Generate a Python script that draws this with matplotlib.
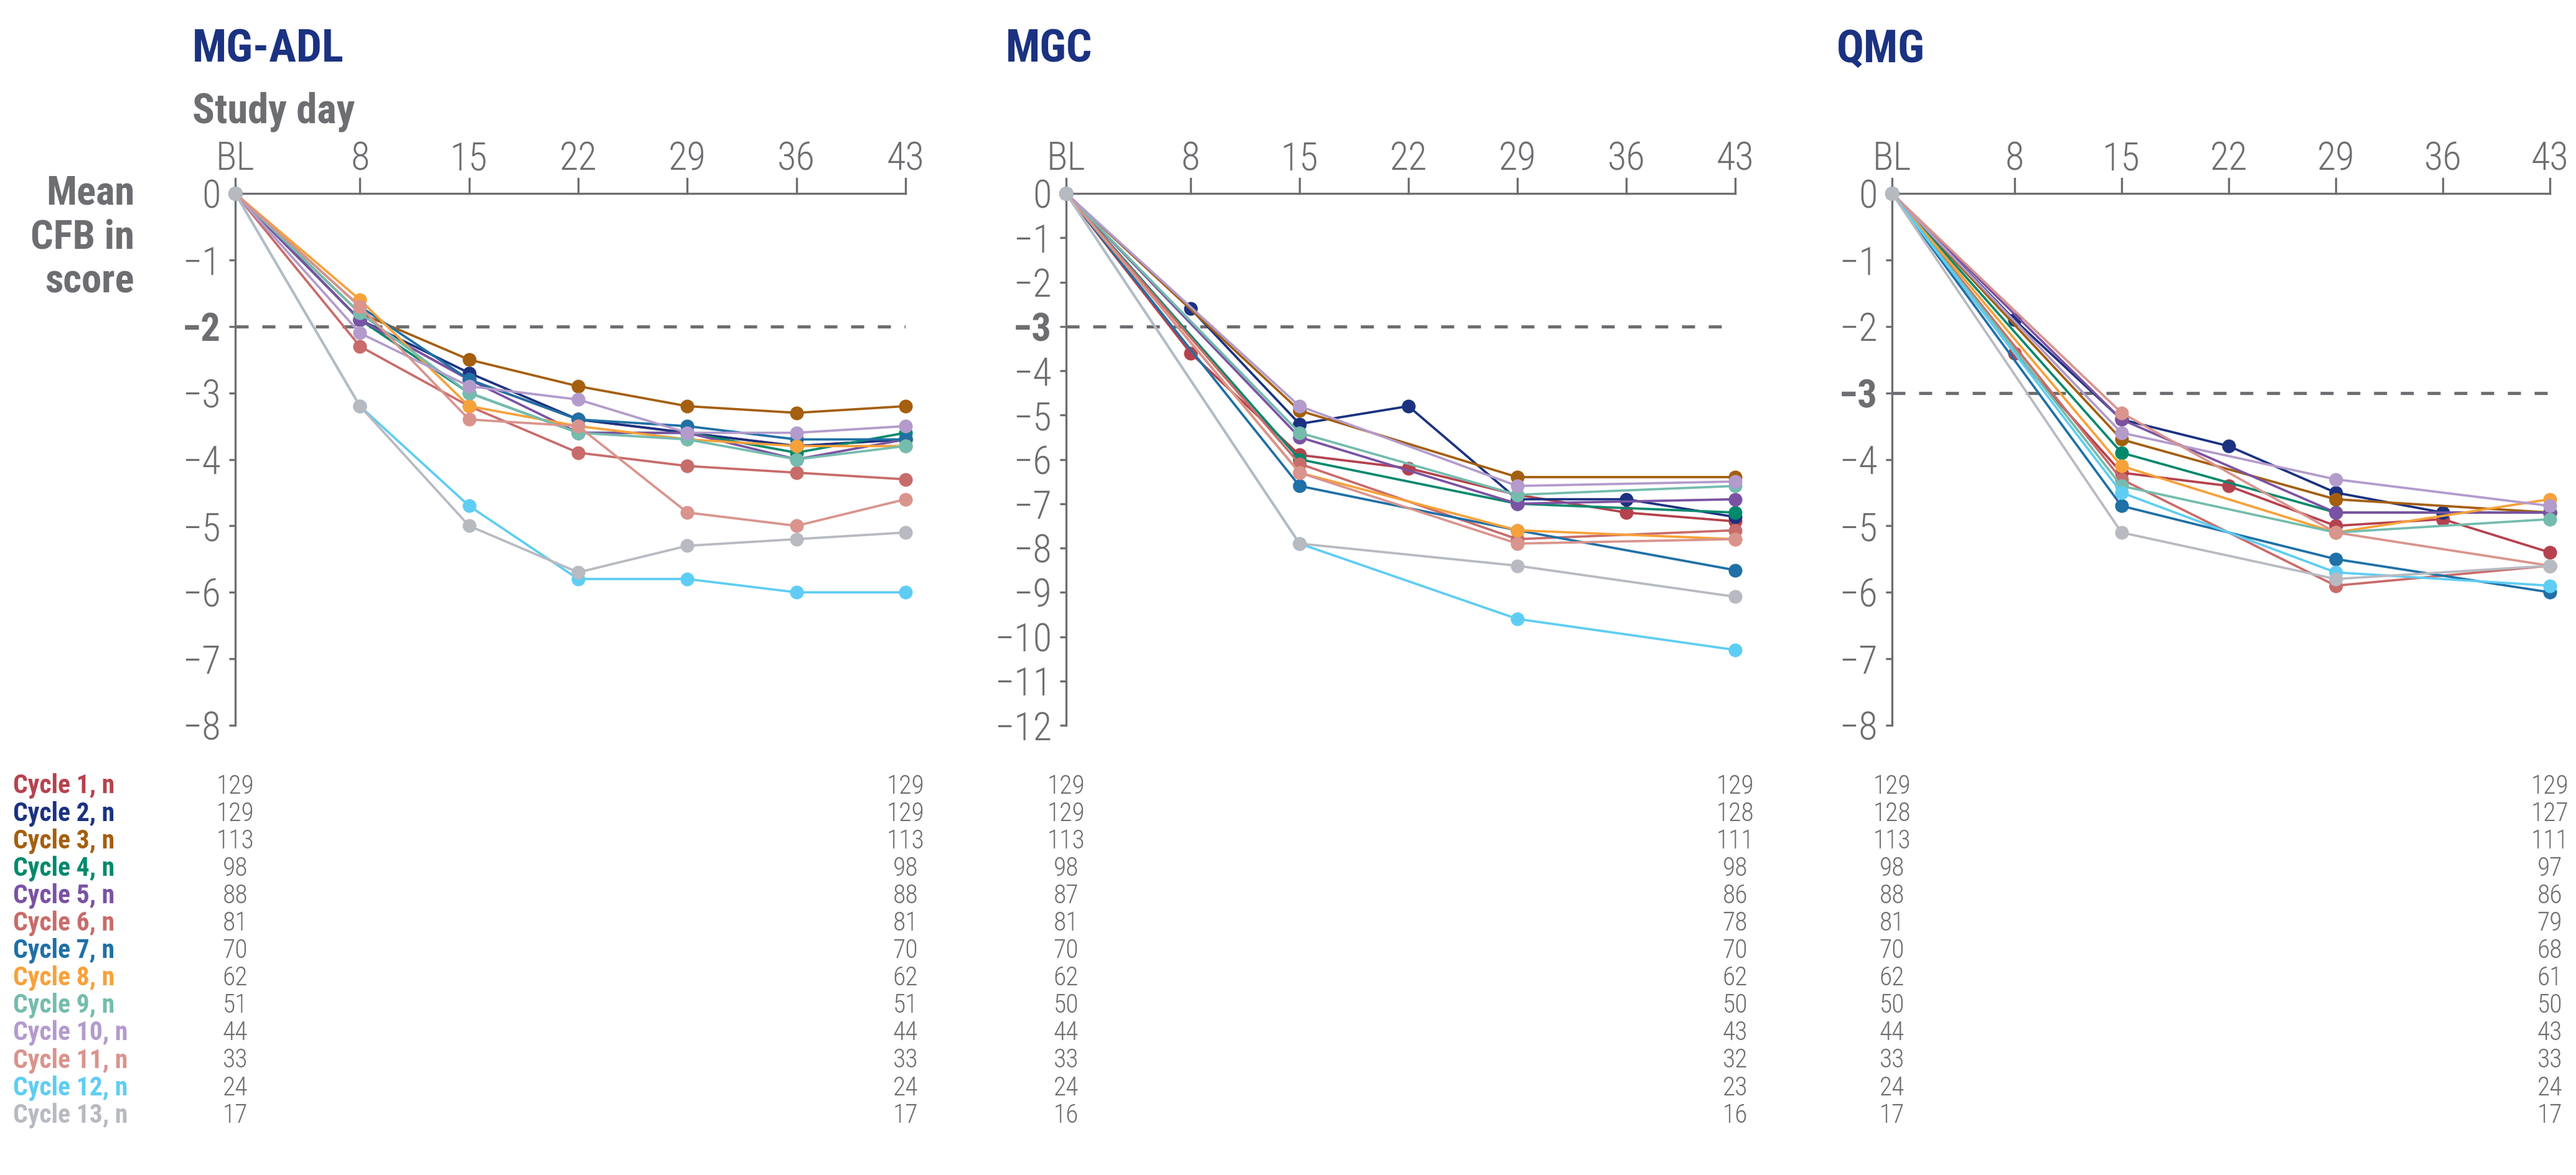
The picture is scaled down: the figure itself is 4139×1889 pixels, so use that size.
import numpy as np
import matplotlib
matplotlib.use("Agg")
import matplotlib.pyplot as plt
from matplotlib import font_manager
from matplotlib.transforms import blended_transform_factory

# data
days = [0, 8, 15, 22, 29, 36, 43]
day_labels = ["BL", "8", "15", "22", "29", "36", "43"]
cycles = [f"Cycle {i}, n" for i in range(1, 14)]
colors = ["#b5424e", "#1b3281", "#a45f0f", "#00896d", "#7b52a3", "#c86c6a", "#1f70a6",
          "#f7a13a", "#74bcae", "#b39bcc", "#d9948d", "#5fcdf3", "#b7bac1"]

nan = np.nan
adl_values = [
    [0, -1.9, -2.8, -3.4, -3.6, -3.8, -3.7],
    [0, -1.9, -2.7, -3.4, -3.6, -3.8, -3.7],
    [0, -1.8, -2.5, -2.9, -3.2, -3.3, -3.2],
    [0, -1.9, -3.0, -3.6, -3.6, -3.9, -3.6],
    [0, -1.9, -2.8, -3.6, -3.6, -4.0, -3.7],
    [0, -2.3, -3.2, -3.9, -4.1, -4.2, -4.3],
    [0, -1.7, -2.8, -3.4, -3.5, -3.7, -3.7],
    [0, -1.6, -3.2, -3.5, -3.7, -3.8, -3.8],
    [0, -1.8, -3.0, -3.6, -3.7, -4.0, -3.8],
    [0, -2.1, -2.9, -3.1, -3.6, -3.6, -3.5],
    [0, -1.7, -3.4, -3.5, -4.8, -5.0, -4.6],
    [0, -3.2, -4.7, -5.8, -5.8, -6.0, -6.0],
    [0, -3.2, -5.0, -5.7, -5.3, -5.2, -5.1],
]
mgc_values = [
    [0, -3.6, -5.9, -6.2, -6.8, -7.2, -7.4],
    [0, -2.6, -5.2, -4.8, -6.9, -6.9, -7.3],
    [0, nan, -4.9, nan, -6.4, nan, -6.4],
    [0, nan, -6.0, nan, -7.0, nan, -7.2],
    [0, nan, -5.5, nan, -7.0, nan, -6.9],
    [0, nan, -6.1, nan, -7.8, nan, -7.6],
    [0, nan, -6.6, nan, -7.6, nan, -8.5],
    [0, nan, -6.3, nan, -7.6, nan, -7.8],
    [0, nan, -5.4, nan, -6.8, nan, -6.6],
    [0, nan, -4.8, nan, -6.6, nan, -6.5],
    [0, nan, -6.3, nan, -7.9, nan, -7.8],
    [0, nan, -7.9, nan, -9.6, nan, -10.3],
    [0, nan, -7.9, nan, -8.4, nan, -9.1],
]
qmg_values = [
    [0, -2.4, -4.2, -4.4, -5.0, -4.9, -5.4],
    [0, -1.9, -3.4, -3.8, -4.5, -4.8, -4.8],
    [0, nan, -3.7, nan, -4.6, nan, -4.8],
    [0, nan, -3.9, nan, -4.8, nan, -4.8],
    [0, nan, -3.4, nan, -4.8, nan, -4.8],
    [0, nan, -4.3, nan, -5.9, nan, -5.6],
    [0, nan, -4.7, nan, -5.5, nan, -6.0],
    [0, nan, -4.1, nan, -5.1, nan, -4.6],
    [0, nan, -4.4, nan, -5.1, nan, -4.9],
    [0, nan, -3.6, nan, -4.3, nan, -4.7],
    [0, nan, -3.3, nan, -5.1, nan, -5.6],
    [0, nan, -4.5, nan, -5.7, nan, -5.9],
    [0, nan, -5.1, nan, -5.8, nan, -5.6],
]

adl_n_bl = [129, 129, 113, 98, 88, 81, 70, 62, 51, 44, 33, 24, 17]
adl_n_end = [129, 129, 113, 98, 88, 81, 70, 62, 51, 44, 33, 24, 17]
mgc_n_bl = [129, 129, 113, 98, 87, 81, 70, 62, 50, 44, 33, 24, 16]
mgc_n_end = [129, 128, 111, 98, 86, 78, 70, 62, 50, 43, 32, 23, 16]
qmg_n_bl = [129, 128, 113, 98, 88, 81, 70, 62, 50, 44, 33, 24, 17]
qmg_n_end = [129, 127, 111, 97, 86, 79, 68, 61, 50, 43, 33, 24, 17]

titles = ["MG-ADL", "MGC", "QMG"]
thresholds = [-2, -3, -3]
ymins = [-8, -12, -8]

# fonts
available = {f.name for f in font_manager.fontManager.ttflist}
font = "DejaVu Sans"
for cand in ["Liberation Sans Narrow", "DejaVu Sans Condensed", "Roboto Condensed", "Roboto", "Lato"]:
    if cand in available:
        font = cand
        break
plt.rcParams["font.family"] = [font, "DejaVu Sans"]

GREY = "#6d6e71"
NAVY = "#1b3281"
W, H = 4139, 1889
DPI = 300

fig = plt.figure(figsize=(W / DPI, H / DPI), dpi=DPI)


def fx(x):
    return x / W


def fy(y):
    return 1 - y / H


top, bottom = 311, 1166
panels = [(378, 1077), (1713, 1075), (3040, 1057)]
title_x = [309, 1616, 2951]
panel_values = [adl_values, mgc_values, qmg_values]
panel_n = [(adl_n_bl, adl_n_end), (mgc_n_bl, mgc_n_end), (qmg_n_bl, qmg_n_end)]

row_y0, row_dy = 1264, 44.1

for p in range(3):
    left, width = panels[p]
    ax = fig.add_axes([fx(left), fy(bottom), width / W, (bottom - top) / H])
    ax.set_xlim(0, 43)
    ax.set_ylim(ymins[p], 0)
    for s in ["right", "bottom"]:
        ax.spines[s].set_visible(False)
    for s in ["left", "top"]:
        ax.spines[s].set_color(GREY)
        ax.spines[s].set_linewidth(0.8)
    ax.xaxis.tick_top()
    ax.set_xticks(days)
    ax.set_xticklabels(day_labels)
    ax.set_yticks(range(ymins[p], 1))
    ax.set_yticklabels([str(v).replace("-", "\u2212") for v in range(ymins[p], 1)])
    ax.tick_params(axis="x", direction="in", length=0, pad=6, labelsize=15, colors=GREY)
    ax.tick_params(axis="y", direction="out", length=2.5, width=0.8, pad=3, labelsize=15, colors=GREY)
    # x ticks drawn upward from the top axis line
    for d in days:
        ax.plot([d, d], [0, ymins[p] * -0.028], color=GREY, lw=0.8, clip_on=False, zorder=1)
    for lab in ax.get_xticklabels() + ax.get_yticklabels():
        lab.set_fontweight("light")
    for lab in ax.get_yticklabels():
        if lab.get_text() == str(thresholds[p]).replace("-", "\u2212"):
            lab.set_fontweight("bold")
    ax.axhline(thresholds[p], color=GREY, lw=1.2, dashes=(4.2, 4.4), zorder=1)

    vals = panel_values[p]
    for i in range(13):
        y = np.array(vals[i], dtype=float)
        x = np.array(days, dtype=float)
        m = ~np.isnan(y)
        ax.plot(x[m], y[m], color=colors[i], lw=0.9, marker="o", ms=4.3,
                clip_on=False, zorder=3 + i)

    fig.text(fx(title_x[p]), fy(80), titles[p], color=NAVY, fontsize=17.5,
             fontweight="bold", ha="left", va="center")

    trans = blended_transform_factory(ax.transData, fig.transFigure)
    n_bl, n_end = panel_n[p]
    for i in range(13):
        yy = fy(row_y0 + i * row_dy)
        ax.text(0, yy, str(n_bl[i]), transform=trans, ha="center", va="center",
                fontsize=10, color=GREY, fontweight="light", clip_on=False)
        ax.text(43, yy, str(n_end[i]), transform=trans, ha="center", va="center",
                fontsize=10, color=GREY, fontweight="light", clip_on=False)

fig.text(fx(309), fy(180), "Study day", color=GREY, fontsize=16, fontweight="bold",
         ha="left", va="center")
for k, word in enumerate(["Mean", "CFB in", "score"]):
    fig.text(fx(216), fy(311 + k * 71), word, color=GREY, fontsize=15.5,
             fontweight="bold", ha="right", va="center")

for i in range(13):
    fig.text(fx(21), fy(row_y0 + i * row_dy), cycles[i], color=colors[i], fontsize=10,
             fontweight="bold", ha="left", va="center")

fig.savefig("out.png", dpi=DPI, facecolor="white")
